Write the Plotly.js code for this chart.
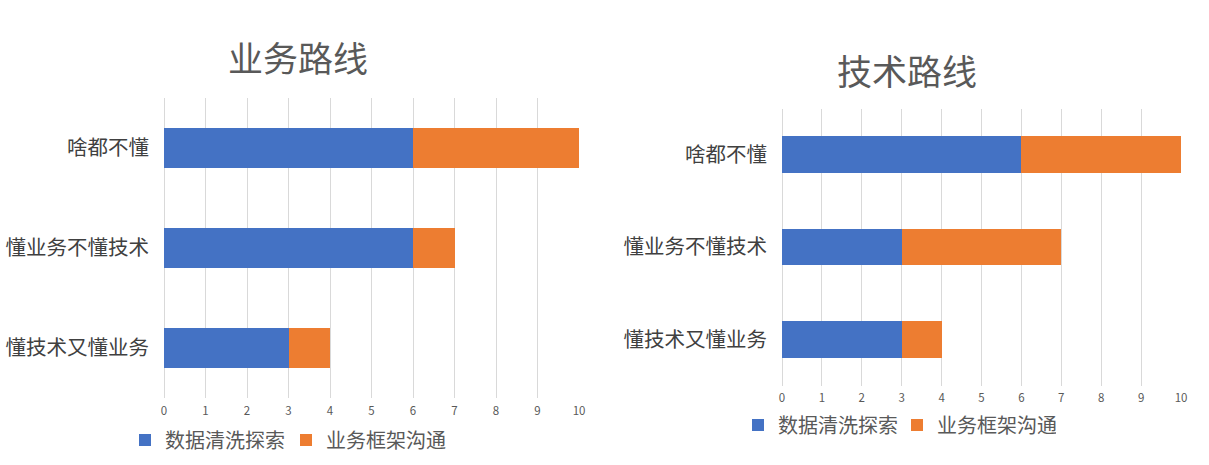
<!DOCTYPE html>
<html>
<head>
<meta charset="utf-8">
<script src="https://cdn.plot.ly/plotly-3.0.1.min.js"></script>
<style>html,body{margin:0;padding:0;background:#fff;}#chart{width:1209px;height:465px;}</style>
</head>
<body>
<div id="chart"></div>
<script>
const categories = ["啥都不懂", "懂业务不懂技术", "懂技术又懂业务"];
const seriesNames = ["数据清洗探索", "业务框架沟通"];
const bizClean = [6, 6, 3];
const bizFrame = [4, 1, 1];
const techClean = [6, 3, 3];
const techFrame = [4, 4, 1];
const chartTitles = ["业务路线", "技术路线"];
const xTicks = [0,1,2,3,4,5,6,7,8,9,10];

const W = 1209, H = 465;
const FONT = '"Noto Sans CJK SC", "Noto Sans", sans-serif';
const BLUE = '#4472C4', ORANGE = '#ED7D31';

function bar(name, vals, color, xa, ya, legend){
  return {type:'bar', orientation:'h', name:name, x:vals, y:categories,
    xaxis:xa, yaxis:ya, legend:legend, marker:{color:color, line:{width:0}},
    width:0.4, hoverinfo:'x+name'};
}
const data = [
  bar(seriesNames[0], bizClean, BLUE, 'x', 'y', 'legend'),
  bar(seriesNames[1], bizFrame, ORANGE, 'x', 'y', 'legend'),
  bar(seriesNames[0], techClean, BLUE, 'x2', 'y2', 'legend2'),
  bar(seriesNames[1], techFrame, ORANGE, 'x2', 'y2', 'legend2')
];

function xaxis(domain, anchor){
  return {domain:domain, anchor:anchor, range:[0,10], tickvals:xTicks, showgrid:true,
    gridcolor:'#D9D9D9', gridwidth:1, zeroline:true, zerolinecolor:'#D9D9D9', zerolinewidth:1,
    showline:false, ticks:'', ticklabelstandoff:4,
    tickfont:{family:FONT, size:11.5, color:'#595959'}, fixedrange:true};
}
function yaxis(domain, anchor){
  return {domain:domain, anchor:anchor, type:'category', categoryorder:'array',
    categoryarray:categories, autorange:'reversed', showgrid:false, zeroline:false,
    showline:false, ticks:'', ticklabelstandoff:14,
    tickfont:{family:FONT, size:20.5, color:'#404040'}, fixedrange:true};
}

const legendFont = {family:FONT, size:20, color:'#595959'};
const layout = {
  width:W, height:H, margin:{l:0,r:0,t:0,b:0},
  paper_bgcolor:'#fff', plot_bgcolor:'rgba(0,0,0,0)',
  barmode:'stack', bargap:0.6, showlegend:true,
  xaxis: xaxis([164/W, 579/W], 'y'),
  yaxis: yaxis([1-398/H, 1-98/H], 'x'),
  xaxis2: xaxis([782/W, 1181/W], 'y2'),
  yaxis2: yaxis([1-385.5/H, 1-108.5/H], 'x2'),
  legend:{orientation:'h', x:125/W, xanchor:'left', y:1-440/H, yanchor:'middle',
    font:legendFont, bgcolor:'rgba(0,0,0,0)', traceorder:'normal',
    entrywidth:116, entrywidthmode:'pixels'},
  legend2:{orientation:'h', x:738/W, xanchor:'left', y:1-425/H, yanchor:'middle',
    font:legendFont, bgcolor:'rgba(0,0,0,0)', traceorder:'normal',
    entrywidth:114, entrywidthmode:'pixels'},
  annotations:[
    {text:chartTitles[0], xref:'paper', yref:'paper', x:298/W, y:1-57/H, xanchor:'center', yanchor:'middle',
     showarrow:false, font:{family:FONT, size:35, color:'#595959'}},
    {text:chartTitles[1], xref:'paper', yref:'paper', x:907/W, y:1-70/H, xanchor:'center', yanchor:'middle',
     showarrow:false, font:{family:FONT, size:35, color:'#595959'}}
  ]
};
Plotly.newPlot('chart', data, layout, {displayModeBar:false, staticPlot:true});
</script>
</body>
</html>
